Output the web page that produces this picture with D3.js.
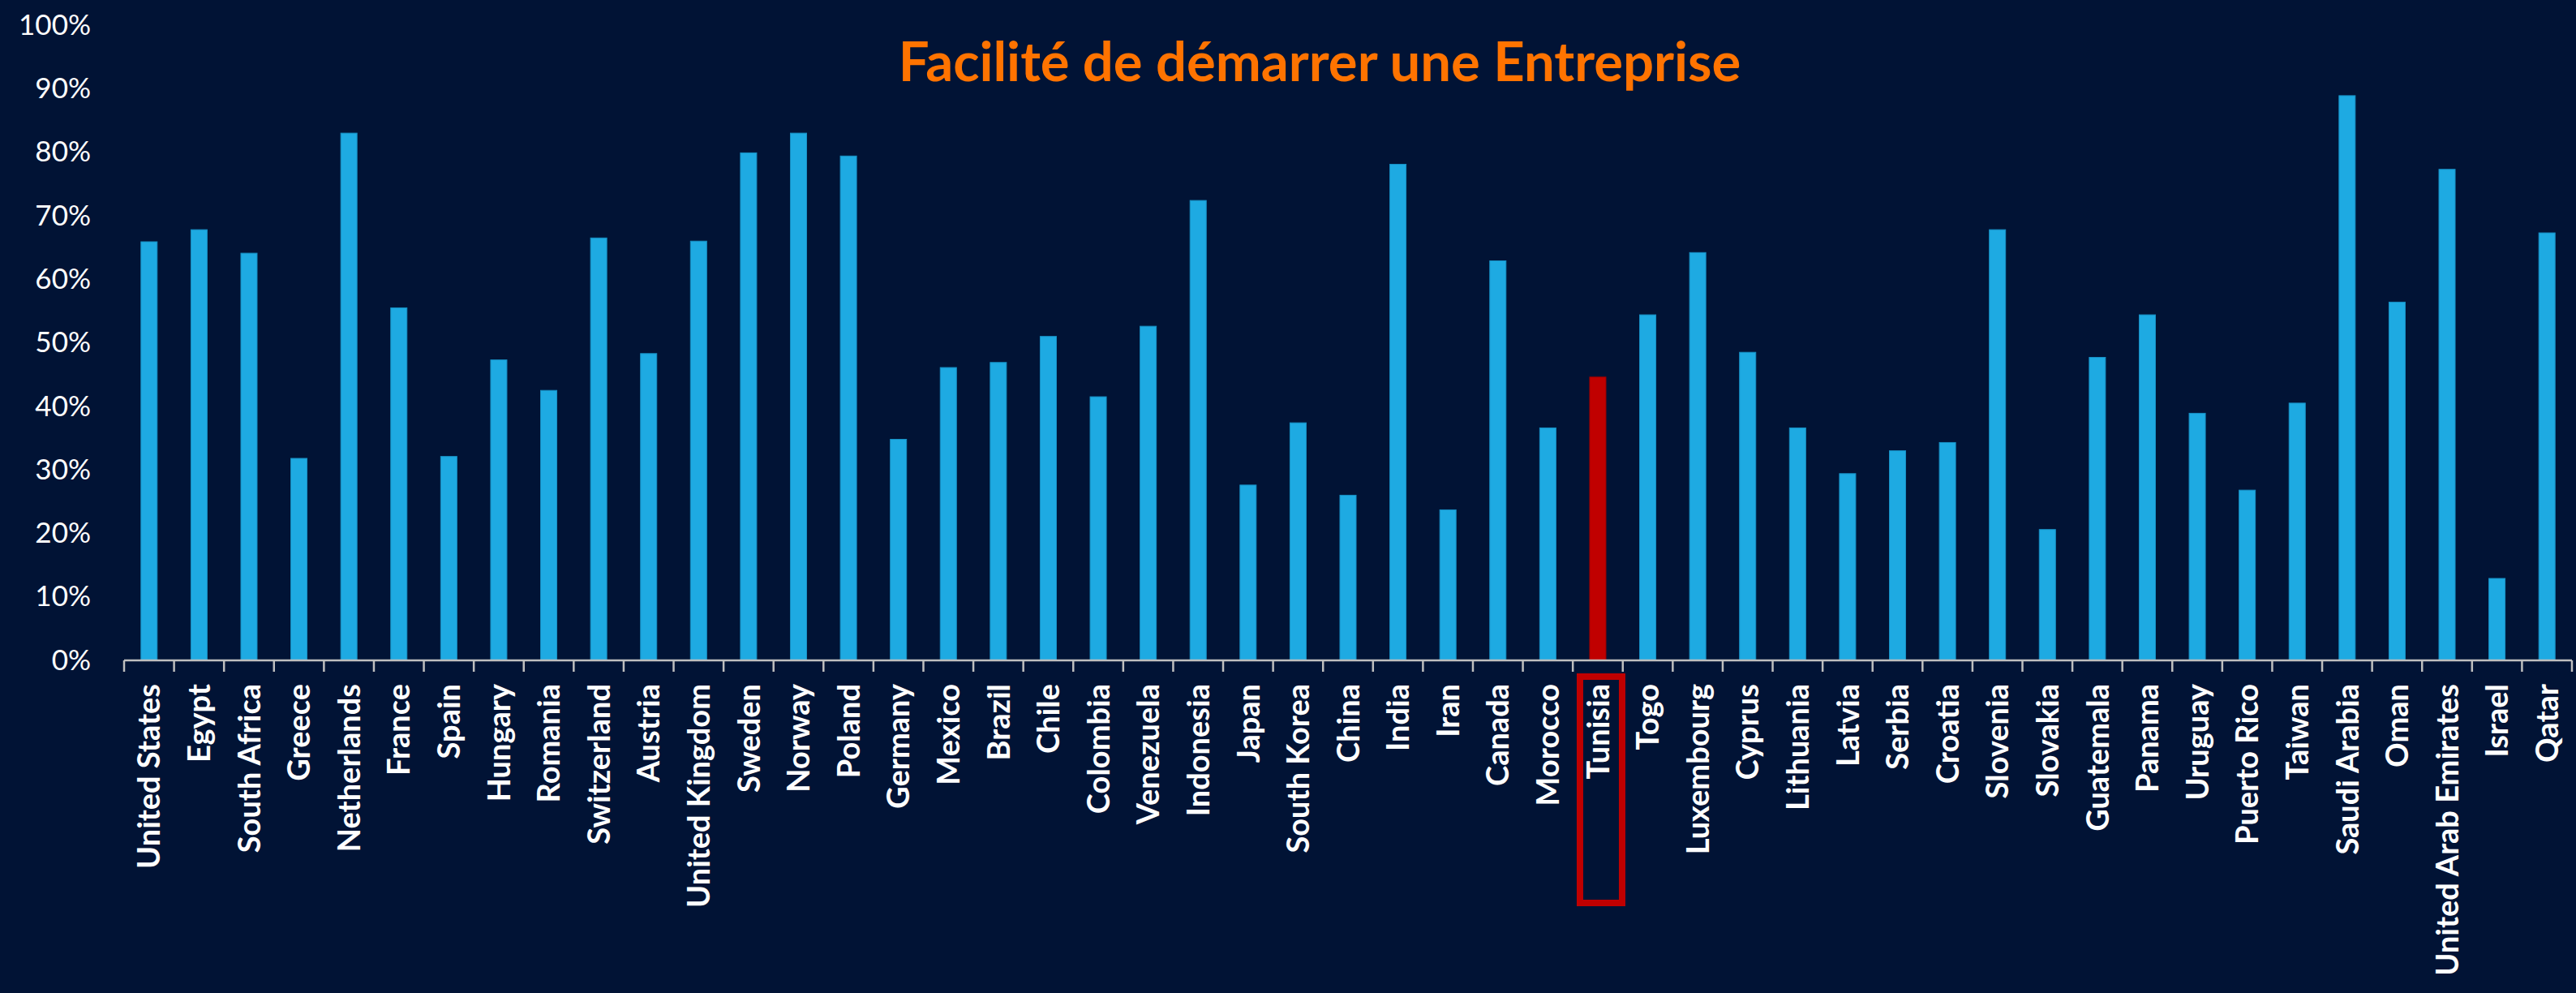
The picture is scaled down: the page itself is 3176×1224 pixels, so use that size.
<!DOCTYPE html>
<meta charset="utf-8">
<style>
  body { margin: 0; background: #011335; }
  svg { display: block; }
</style>

<body>
  <div id="bar_chart">
  </div>
  <script src="https://d3js.org/d3.v7.min.js"></script>
  <script>
    var countries = ["United States", "Egypt", "South Africa", "Greece", "Netherlands", "France", "Spain",
      "Hungary", "Romania", "Switzerland", "Austria", "United Kingdom", "Sweden", "Norway", "Poland",
      "Germany", "Mexico", "Brazil", "Chile", "Colombia", "Venezuela", "Indonesia", "Japan", "South Korea",
      "China", "India", "Iran", "Canada", "Morocco", "Tunisia", "Togo", "Luxembourg", "Cyprus", "Lithuania",
      "Latvia", "Serbia", "Croatia", "Slovenia", "Slovakia", "Guatemala", "Panama", "Uruguay", "Puerto Rico",
      "Taiwan", "Saudi Arabia", "Oman", "United Arab Emirates", "Israel", "Qatar"];

    var values = [65.9, 67.8, 64.1, 31.8, 83.0, 55.5, 32.1,
      47.3, 42.5, 66.5, 48.3, 66.0, 79.9, 83.0, 79.4,
      34.8, 46.1, 46.9, 51.0, 41.5, 52.6, 72.4, 27.6, 37.4,
      26.0, 78.1, 23.7, 62.9, 36.6, 44.6, 54.4, 64.2, 48.5, 36.6,
      29.4, 33.0, 34.3, 67.8, 20.6, 47.7, 54.4, 38.9, 26.8,
      40.5, 88.9, 56.4, 77.3, 12.9, 67.3];

    var yTicks = [0, 10, 20, 30, 40, 50, 60, 70, 80, 90, 100];

    var title = "Facilité de démarrer une Entreprise";
    var highlight = "Tunisia";

    var data = countries.map(function(c, i) {
      return { name: c, value: values[i] };
    });

    var W = 3176, H = 1224;
    var margin = { top: 31, right: 5, bottom: 410, left: 153 },
      width = W - margin.left - margin.right,
      height = H - margin.top - margin.bottom;

    var svg = d3.select("#bar_chart")
      .append("svg")
      .attr("width", W)
      .attr("height", H)
      .style("background", "#011335");

    var g = svg.append("g")
      .attr("transform", "translate(" + margin.left + "," + margin.top + ")");

    var x = d3.scaleBand()
      .domain(countries)
      .range([0, 3171 - margin.left])
      .paddingInner(0.675)
      .paddingOuter(0.3375);

    var y = d3.scaleLinear()
      .domain([0, 100])
      .range([height, 0]);

    // bars
    g.selectAll("rect.bar")
      .data(data)
      .enter()
      .append("rect")
      .attr("class", "bar")
      .attr("x", function(d) { return x(d.name); })
      .attr("y", function(d) { return y(d.value); })
      .attr("width", x.bandwidth())
      .attr("height", function(d) { return height - y(d.value); })
      .style("fill", function(d) { return d.name == highlight ? "#C00000" : "#1EAAE2"; })
      .style("stroke", function(d) { return d.name == highlight ? "#A00000" : "#1890C4"; })
      .style("stroke-width", 1);

    // x axis, ticks between the categories
    var step = x.step();
    var xa = g.append("g")
      .attr("transform", "translate(0," + height + ")");

    xa.append("line")
      .attr("x1", 0)
      .attr("x2", step * countries.length)
      .attr("y1", 0)
      .attr("y2", 0)
      .style("stroke", "#BFBFBF")
      .style("stroke-width", 2.5);

    xa.selectAll("line.tick")
      .data(d3.range(countries.length + 1))
      .enter()
      .append("line")
      .attr("class", "tick")
      .attr("x1", function(i) { return i * step; })
      .attr("x2", function(i) { return i * step; })
      .attr("y1", 0)
      .attr("y2", 14)
      .style("stroke", "#BFBFBF")
      .style("stroke-width", 2.5);

    xa.selectAll("text")
      .data(countries)
      .enter()
      .append("text")
      .attr("transform", function(d) {
        return "translate(" + (x(d) + x.bandwidth() / 2) + ",29) rotate(-90)";
      })
      .attr("dy", "0.36em")
      .attr("text-anchor", "end")
      .style("font-family", "Lato, 'Liberation Sans', sans-serif")
      .style("font-weight", "bold")
      .style("font-size", "38px")
      .style("fill", "#FFFFFF")
      .text(function(d) { return d; });

    // box around the highlighted label
    var hx = x(highlight) + x.bandwidth() / 2;
    xa.append("rect")
      .attr("x", hx - 22)
      .attr("y", 20)
      .attr("width", 52)
      .attr("height", 279)
      .style("fill", "none")
      .style("stroke", "#C00000")
      .style("stroke-width", 8);

    // y axis labels only
    var ya = g.append("g")
      .call(d3.axisLeft(y)
        .tickValues(yTicks)
        .tickSize(0)
        .tickPadding(41)
        .tickFormat(function(d) { return d + "%"; }));

    ya.select(".domain").remove();
    ya.selectAll("text")
      .style("font-family", "Lato, 'Liberation Sans', sans-serif")
      .style("font-size", "35px")
      .style("fill", "#FFFFFF");

    // title
    svg.append("text")
      .attr("x", 1627)
      .attr("y", 100)
      .attr("text-anchor", "middle")
      .style("font-family", "Lato, 'Liberation Sans', sans-serif")
      .style("font-weight", "bold")
      .style("font-size", "67px")
      .style("fill", "#FF7300")
      .text(title);
  </script>
